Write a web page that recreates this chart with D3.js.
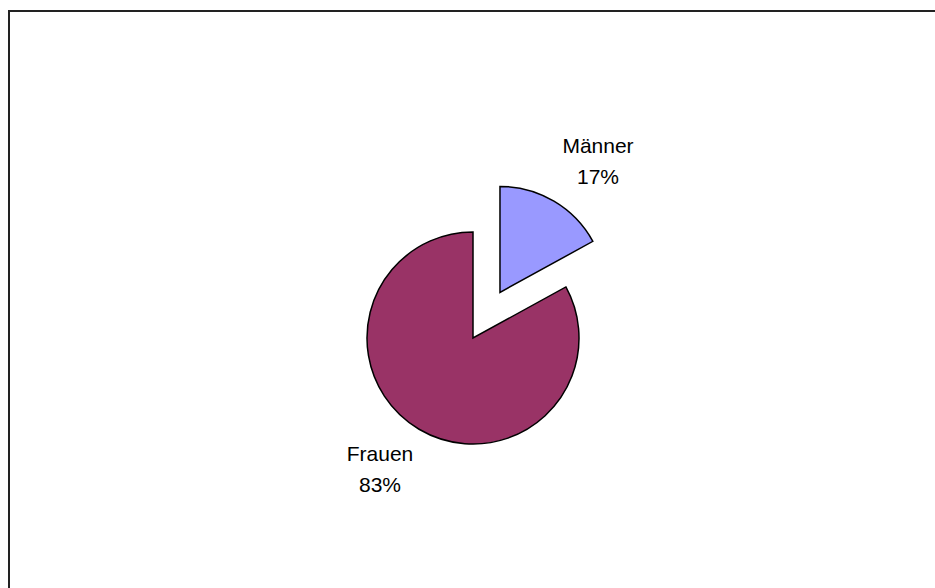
<!DOCTYPE html>
<html><head><meta charset="utf-8">
<script src="https://cdn.jsdelivr.net/npm/d3@7"></script>
<style>html,body{margin:0;padding:0;background:#fff;overflow:hidden}</style>
</head><body>
<svg id="c" width="935" height="588"></svg>
<script>
const categories = ["Männer", "Frauen"];
const values = [17, 83];
const colors = ["#9999FF", "#993366"];
const exploded = [true, false];

const svg = d3.select("#c");
svg.append("rect").attr("x", 9).attr("y", 11).attr("width", 1000).attr("height", 1000)
  .attr("fill", "#fff").attr("stroke", "#222").attr("stroke-width", 2);

const cx = 473, cy = 338, r = 106, explode = 53;
const pie = d3.pie().sort(null).value(d => d)(values);
const arc = d3.arc().innerRadius(0).outerRadius(r);
const total = d3.sum(values);

const g = svg.append("g").attr("transform", `translate(${cx},${cy})`);
pie.forEach((p, i) => {
  const mid = (p.startAngle + p.endAngle) / 2;
  const off = exploded[i] ? explode : 0;
  const dx = Math.sin(mid) * off, dy = -Math.cos(mid) * off;
  g.append("path").attr("d", arc(p))
    .attr("transform", `translate(${dx},${dy})`)
    .attr("fill", colors[i]).attr("stroke", "#000").attr("stroke-width", 1.5)
    .attr("stroke-linejoin", "miter");
});

// labels
const labelPos = [[598, 153], [380, 461]];
pie.forEach((p, i) => {
  const t = svg.append("text").attr("text-anchor", "middle")
    .attr("font-family", "Liberation Sans, Arial, sans-serif").attr("font-size", 21).attr("fill", "#000");
  t.append("tspan").attr("x", labelPos[i][0]).attr("y", labelPos[i][1]).text(categories[i]);
  t.append("tspan").attr("x", labelPos[i][0]).attr("y", labelPos[i][1] + 30.5)
    .text(Math.round(values[i] / total * 100) + "%");
});
</script>
</body></html>
